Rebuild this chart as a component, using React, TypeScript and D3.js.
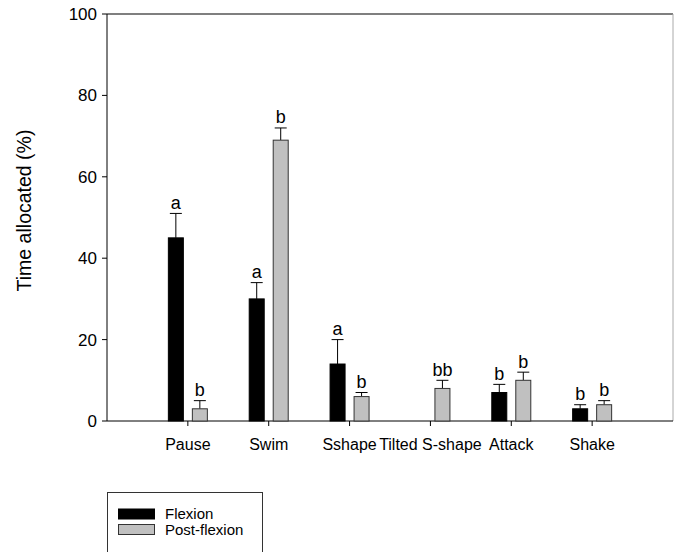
import React from "react";
import * as d3 from "d3";

const categories = ["Pause", "Swim", "Sshape", "Tilted S-shape", "Attack", "Shake"];
const flexionMean = [45, 30, 14, 0, 7, 3];
const flexionErr = [51, 34, 20, 0, 9, 4];
const flexionLetters = ["a", "a", "a", "", "b", "b"];
const postMean = [3, 69, 6, 8, 10, 4];
const postErr = [5, 72, 7, 10, 12, 5];
const postLetters = ["b", "b", "b", "bb", "b", "b"];
const yTicks = [0, 20, 40, 60, 80, 100];
const seriesNames = ["Flexion", "Post-flexion"];

const FONT = "Liberation Sans, Arial, sans-serif";

export default function App() {
  const W = 680, H = 552;
  const left = 107, right = 673, top = 14, bottom = 421;
  const y = d3.scaleLinear().domain([0, 100]).range([bottom, top]);
  const x = d3.scaleLinear().domain([0, 7]).range([left, right]);
  const bw = 15;
  const gap = 4.5;
  const cap = 6;

  const series = [
    { mean: flexionMean, err: flexionErr, letters: flexionLetters, fill: "#000", stroke: "#000", off: -gap - bw },
    { mean: postMean, err: postErr, letters: postLetters, fill: "#c0c0c0", stroke: "#333", off: gap },
  ];

  return (
    <svg width={W} height={H} style={{ position: "absolute", left: 0, top: 0, background: "#fff" }} fontFamily={FONT}>
      {/* frame */}
      <line x1={left} x2={right} y1={top} y2={top} stroke="#555" strokeWidth={1.5} />
      <line x1={right} x2={right} y1={top} y2={bottom} stroke="#aaa" strokeWidth={1} />
      <line x1={left} x2={left} y1={top} y2={bottom} stroke="#000" strokeWidth={1} />
      <line x1={left} x2={right} y1={bottom} y2={bottom} stroke="#000" strokeWidth={1} />
      {/* y ticks */}
      {yTicks.map((t) => (
        <g key={t}>
          <line x1={left - 5} x2={left} y1={y(t)} y2={y(t)} stroke="#000" />
          <text x={left - 10} y={y(t)} dy="0.35em" textAnchor="end" fontSize={17}>{t}</text>
        </g>
      ))}
      <text transform={`translate(24,${210.5}) rotate(-90)`} dy="0.35em" textAnchor="middle" fontSize={19.5}>
        Time allocated (%)
      </text>
      {/* x ticks */}
      {categories.map((c, i) => (
        <g key={c}>
          <line x1={x(i + 1)} x2={x(i + 1)} y1={bottom} y2={bottom + 5} stroke="#000" />
          <text x={x(i + 1)} y={450} textAnchor="middle" fontSize={16}>{c}</text>
        </g>
      ))}
      {/* bars */}
      {series.map((s, si) =>
        categories.map((c, i) => {
          if (s.mean[i] <= 0) return null;
          const bx = x(i + 1) + s.off;
          const cx = bx + bw / 2;
          return (
            <g key={`${si}-${i}`}>
              <line x1={cx} x2={cx} y1={y(s.mean[i])} y2={y(s.err[i])} stroke="#000" />
              <line x1={cx - cap} x2={cx + cap} y1={y(s.err[i])} y2={y(s.err[i])} stroke="#000" />
              <rect x={bx} y={y(s.mean[i])} width={bw} height={bottom - y(s.mean[i])} fill={s.fill} stroke={s.stroke} strokeWidth={1} />
            </g>
          );
        })
      )}
      {/* letters */}
      {series.map((s, si) =>
        categories.map((c, i) => {
          if (!s.letters[i]) return null;
          const cx = x(i + 1) + s.off + bw / 2;
          return (
            <text key={`l${si}-${i}`} x={cx} y={y(s.err[i]) - 4.5} textAnchor="middle" fontSize={18}>
              {s.letters[i]}
            </text>
          );
        })
      )}
      {/* legend */}
      <rect x={107.5} y={492.5} width={155} height={80} fill="none" stroke="#333" strokeWidth={1} />
      {seriesNames.map((n, i) => (
        <g key={n}>
          <rect x={118.5} y={509 + i * 15.5} width={36} height={10} fill={series[i].fill} stroke={series[i].stroke} />
          <text x={165} y={514 + i * 15.5} dy="0.35em" fontSize={15}>{n}</text>
        </g>
      ))}
    </svg>
  );
}
